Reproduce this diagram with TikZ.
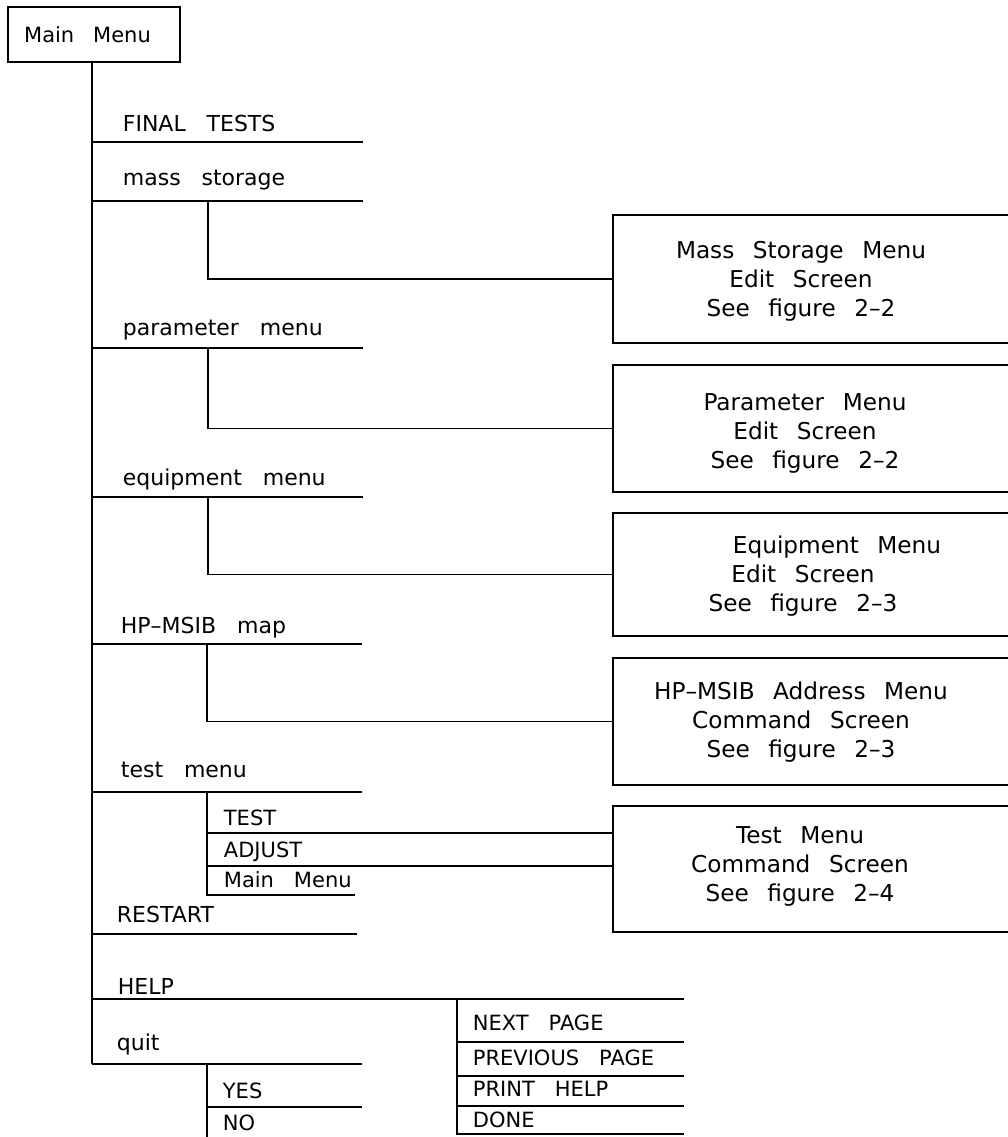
\documentclass[tikz,border=0pt]{standalone}
\usepackage{fontspec}
\setmainfont{DejaVu Sans}
\newcommand\listfont{\fontsize{11}{13}\selectfont\spaceskip=0.95em\relax}
\newcommand\subfont{\fontsize{10.5}{12.5}\selectfont\spaceskip=0.95em\relax}
\newcommand\scrfont{\fontsize{11.6}{14.5}\selectfont\spaceskip=0.8em\relax}
\newcommand\topfont{\fontsize{10.5}{12.5}\selectfont\spaceskip=0.9em\relax}
\tikzset{
  item/.style={anchor=base west, inner sep=0pt, font=\listfont},
  subitem/.style={anchor=base west, inner sep=0pt, font=\subfont},
  scrbox/.style={draw, minimum width=201pt, inner sep=0pt},
  scrtext/.style={align=center, inner sep=0pt, font=\scrfont},
}
\begin{document}
\begin{tikzpicture}[x=0.5pt,y=-0.5pt,line width=0.9pt]
\useasboundingbox (0,0) rectangle (1008,1137);
% top box
\node[draw, minimum width=86pt, minimum height=27.5pt, inner sep=0pt, font=\topfont] (mm) at (94,34.5) {Main Menu\hspace*{6.5pt}};
% underline coordinates
\coordinate (fts) at (92,142);  \coordinate (fte) at (363,142);
\coordinate (mss) at (92,201);  \coordinate (mse) at (363,201);
\coordinate (pms) at (92,348);  \coordinate (pme) at (363,348);
\coordinate (ems) at (92,497);  \coordinate (eme) at (363,497);
\coordinate (hms) at (92,644);  \coordinate (hme) at (362,644);
\coordinate (tms) at (92,792);  \coordinate (tme) at (362,792);
\coordinate (rss) at (92,934);  \coordinate (rse) at (357,934);
\coordinate (hls) at (92,999);  \coordinate (hle) at (684,999);
\coordinate (qts) at (92,1064); \coordinate (qte) at (362,1064);
% trunk
\draw (mm.south -| qts) -- (qts);
\foreach \a/\b in {fts/fte,mss/mse,pms/pme,ems/eme,hms/hme,tms/tme,rss/rse,hls/hle,qts/qte}
  \draw (\a) -- (\b);
% main items
\node[item] (ft) at (122,131) {FINAL TESTS};
\node[item] (ms) at (122,185) {mass storage};
\node[item] (pm) at (122,335) {parameter menu};
\node[item] (em) at (122,485) {equipment menu};
\node[item] (hm) at (120,633) {HP--MSIB map};
\node[item] (tm) at (120,777) {test menu};
\node[item] (rs) at (116,922) {RESTART};
\node[item] (hl) at (117,994) {HELP};
\node[item] (qt) at (116,1050) {quit};
% screen boxes
\node[scrbox, minimum height=64pt]   (b1) at (814,279)   {};
\node[scrbox, minimum height=63.5pt] (b2) at (814,428.5) {};
\node[scrbox, minimum height=61.5pt] (b3) at (814,574.5) {};
\node[scrbox, minimum height=63.5pt] (b4) at (814,721.5) {};
\node[scrbox, minimum height=63pt]   (b5) at (814,869)   {};
\node[scrtext] (b1t) at (801,281) {Mass Storage Menu\\Edit Screen\\See figure 2--2};
\node[scrtext] (b2t) at (805,433) {Parameter Menu\\Edit Screen\\See figure 2--2};
\node[scrtext] (b3t) at (803,576) {\hspace*{34pt}Equipment Menu\\Edit Screen\\See figure 2--3};
\node[scrtext] (b4t) at (801,722) {HP--MSIB Address Menu\\Command Screen\\See figure 2--3};
\node[scrtext] (b5t) at (800,866) {Test Menu\\Command Screen\\See figure 2--4};
% branches to boxes
\coordinate (msb) at (208,201);
\coordinate (pmb) at (208,348);
\coordinate (emb) at (208,497);
\coordinate (hmb) at (207,644);
\draw (msb) |- (b1.west);
\draw (pmb) |- (b2.west);
\draw (emb) |- (b3.west);
\draw (hmb) |- (b4.west);
% test menu submenu
\coordinate (tmb) at (207,792);
\coordinate (tss) at (207,833);
\coordinate (ads) at (207,866);
\coordinate (mms) at (207,895); \coordinate (mme) at (355,895);
\draw (tmb) -- (mms) -- (mme);
\draw (tss) -- (tss -| b5.west);
\draw (ads) -- (ads -| b5.west);
\node[subitem] (tst) at (223,825) {TEST};
\node[subitem] (adj) at (223,857) {ADJUST};
\node[subitem] (mmn) at (223,887) {Main Menu};
% quit submenu
\coordinate (qb) at (207,1064); \coordinate (qbe) at (207,1140);
\coordinate (yls) at (207,1107); \coordinate (yle) at (362,1107);
\draw (qb) -- (qbe);
\draw (yls) -- (yle);
\node[subitem] (yes) at (222,1098) {YES};
\node[subitem] (no) at (222,1130) {NO};
% help submenu
\coordinate (hb) at (457,999);
\coordinate (n1s) at (457,1042); \coordinate (n1e) at (684,1042);
\coordinate (n2s) at (457,1076); \coordinate (n2e) at (684,1076);
\coordinate (n3s) at (457,1106); \coordinate (n3e) at (684,1106);
\coordinate (n4s) at (457,1134); \coordinate (n4e) at (684,1134);
\draw (hb) -- (n4s) -- (n4e);
\draw (n1s) -- (n1e);
\draw (n2s) -- (n2e);
\draw (n3s) -- (n3e);
\node[subitem] (np) at (472,1030) {NEXT PAGE};
\node[subitem] (pp) at (472,1065) {PREVIOUS PAGE};
\node[subitem] (ph) at (472,1096) {PRINT HELP};
\node[subitem] (dn) at (472,1127) {DONE};
\end{tikzpicture}
\end{document}
